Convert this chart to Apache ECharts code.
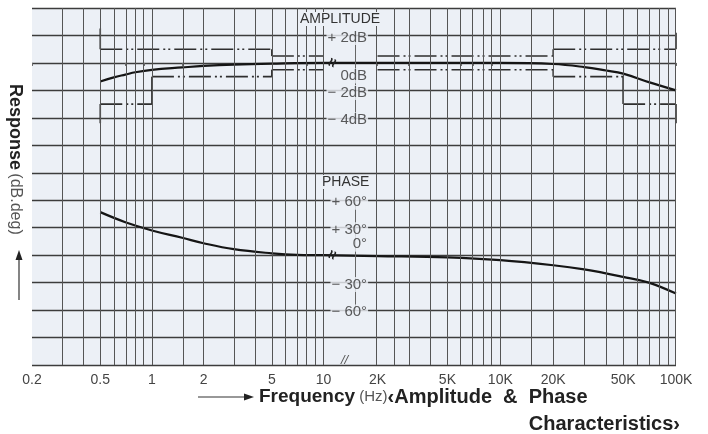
<!DOCTYPE html>
<html>
<head>
<meta charset="utf-8">
<script src="https://cdn.jsdelivr.net/npm/echarts@6/dist/echarts.min.js"></script>
<style>
  html, body { margin: 0; background: #fff; }
  #chart { width: 708px; height: 434px; }
</style>
</head>
<body>
<div id="chart"></div>
<script>
// frequency axis labels (Hz)
const freqTickValues = [0.2, 0.5, 1, 2, 5, 10, 2000, 5000, 10000, 20000, 50000, 100000];
const freqTickLabels = ["0.2", "0.5", "1", "2", "5", "10", "2K", "5K", "10K", "20K", "50K", "100K"];

// log paper lines
const gridFreqs = [
  0.2, 0.3, 0.4, 0.5, 0.6, 0.7, 0.8, 0.9, 1, 1.5, 2, 3, 4, 5, 6, 7, 8, 9, 10,
  2000, 2500, 3000, 4000, 5000, 6000, 7000, 8000, 9000, 10000, 15000,
  20000, 30000, 40000, 50000, 60000, 70000, 80000, 90000, 100000
];

// amplitude response (dB)
const ampFreqs = [0.5, 0.6, 0.7, 0.8, 1, 1.5, 2, 3, 5, 10, 2000, 5000, 10000, 20000, 30000, 40000, 50000, 70000, 100000];
const ampDb    = [-1.35, -1.05, -0.85, -0.68, -0.5, -0.33, -0.22, -0.12, -0.05, 0, 0, 0, 0, -0.08, -0.3, -0.55, -0.78, -1.4, -2.0];

// phase response (deg)
const phaseFreqs = [0.5, 0.7, 1, 1.5, 2, 3, 5, 7, 10, 2000, 5000, 10000, 20000, 30000, 50000, 70000, 100000];
const phaseDeg   = [47, 36, 27, 19, 13, 6.5, 2, 0.3, 0, -1, -2.5, -5.5, -11, -15.6, -23.7, -30, -42];

// tolerance limits: [fromHz, toHz, dB]
const upperLimit = [[0.5, 5, 1], [5, 10, 0.5], [2000, 20000, 0.5], [20000, 100000, 1]];
const lowerLimit = [[0.5, 1, -3], [1, 5, -1], [5, 10, -0.5], [2000, 20000, -0.5], [20000, 50000, -1], [50000, 100000, -3]];
// limit steps: [Hz, fromDb, toDb]
const limitSteps = [
  [0.5, 2.5, 1], [5, 1, 0.5], [20000, 0.5, 1], [100000, 2.2, 1],
  [0.5, -4.4, -3], [1, -3, -1], [5, -1, -0.5], [20000, -0.5, -1], [50000, -1, -3], [100000, -3, -4.4]
];

// scale labels in the middle
const ampTickValues = [2, 0, -2, -4];
const ampTickLabels = ["+ 2dB", "0dB", "− 2dB", "− 4dB"];
const phaseTickValues = [60, 30, 0, -30, -60];
const phaseTickLabels = ["+ 60°", "+ 30°", "0°", "− 30°", "− 60°"];

// broken log axis: 0.2..10 Hz, then 2K..100K
const GAP = 0.315;
const HIGH_SCALE = 1.024;
function P(f) {
  return f <= 100 ? Math.log10(f) : 1 + GAP + (Math.log10(f) - Math.log10(2000)) * HIGH_SCALE;
}

const LABEL_COL = 1.26;   // right edge of middle labels
const SCALE_COL = 1.184;  // little scale line
const BREAK_COL = 1.056;  // break mark on curves
const PLOT_BG = "#ecf0f6";
const FONT = "'Liberation Sans', Arial, sans-serif";
const NARROW = "'Liberation Sans Narrow', 'Liberation Sans', Arial, sans-serif";

function segments(list) {
  const out = [];
  list.forEach(([a, b, v]) => { out.push([P(a), v], [P(b), v], [P(b), "-"]); });
  return out;
}
function steps(list) {
  const out = [];
  list.forEach(([f, a, b]) => { out.push([P(f), a], [P(f), b], [P(f), "-"]); });
  return out;
}
function scaleLine(values) {
  return {
    silent: true,
    symbol: "none",
    label: { show: false },
    lineStyle: { color: "#666", width: 1, type: "solid" },
    data: [[{ coord: [SCALE_COL, values[0]] }, { coord: [SCALE_COL, values[values.length - 1]] }]]
  };
}
function tickLabels(values, labels, zeroOffset) {
  return values.map((v, i) => ({
    value: [LABEL_COL, v],
    label: { formatter: labels[i], offset: v === 0 ? [0, zeroOffset] : [0, 2] }
  }));
}

const chart = echarts.init(document.getElementById("chart"));

const breakMark = {
  symbol: "circle",
  symbolSize: 0,
  silent: true,
  label: { show: true, formatter: "≈", rotate: 70, fontSize: 16, fontWeight: "bold", color: "#222", position: "inside" }
};
const tickLabelStyle = {
  show: true, position: "left", distance: 0,
  color: "#333", fontFamily: FONT, fontSize: 15,
  backgroundColor: PLOT_BG, padding: [0, 1]
};

chart.setOption({
  animation: false,
  backgroundColor: "#ffffff",
  grid: { left: 32, right: 32, top: 8, bottom: 69, show: true, backgroundColor: PLOT_BG, borderWidth: 0 },
  xAxis: {
    type: "value",
    min: P(0.2),
    max: P(100000),
    splitLine: { show: false },
    axisLine: { show: false },
    axisTick: { show: true, customValues: gridFreqs.map(P), length: 3, lineStyle: { color: "#666" } },
    axisLabel: {
      customValues: freqTickValues.map(P),
      formatter: v => {
        const i = freqTickValues.findIndex(f => Math.abs(P(f) - v) < 1e-6);
        return i >= 0 ? freqTickLabels[i] : "";
      },
      color: "#444",
      fontFamily: NARROW,
      fontSize: 14,
      margin: 8
    }
  },
  yAxis: [
    {
      type: "value", min: -22, max: 4, interval: 2,
      axisLine: { show: false }, axisTick: { show: false }, axisLabel: { show: false },
      splitLine: { show: true, lineStyle: { color: "#3c3c3c", width: 1.3 } }
    },
    {
      type: "value", min: -120, max: 270, interval: 30,
      axisLine: { show: false }, axisTick: { show: false }, axisLabel: { show: false },
      splitLine: { show: false }
    }
  ],
  series: [
    {
      name: "paper",
      type: "line",
      data: [[P(1), "-"]],
      symbol: "none",
      z: 1,
      markLine: {
        silent: true,
        symbol: "none",
        label: { show: false },
        lineStyle: { color: "#555", width: 1, type: "solid" },
        data: gridFreqs.map(f => ({ xAxis: P(f) }))
      }
    },
    {
      name: "ampScale",
      type: "line",
      data: [[P(1), "-"]],
      symbol: "none",
      z: 2,
      markLine: scaleLine(ampTickValues)
    },
    {
      name: "phaseScale",
      type: "line",
      yAxisIndex: 1,
      data: [[P(1), "-"]],
      symbol: "none",
      z: 2,
      markLine: scaleLine(phaseTickValues)
    },
    {
      name: "limits",
      type: "line",
      data: segments(upperLimit).concat(segments(lowerLimit)),
      symbol: "none",
      connectNulls: false,
      z: 3,
      lineStyle: { color: "#2e2e2e", width: 1.6, type: [22, 4, 2, 3, 2, 4] }
    },
    {
      name: "steps",
      type: "line",
      data: steps(limitSteps),
      symbol: "none",
      connectNulls: false,
      z: 3,
      lineStyle: { color: "#2e2e2e", width: 1.6 }
    },
    {
      name: "Amplitude",
      type: "line",
      data: ampFreqs.map((f, i) => [P(f), ampDb[i]]),
      smooth: 0.4,
      symbol: "none",
      z: 4,
      lineStyle: { color: "#151515", width: 2.2 },
      markPoint: Object.assign({ data: [{ coord: [BREAK_COL, 0] }] }, breakMark)
    },
    {
      name: "Phase",
      type: "line",
      yAxisIndex: 1,
      data: phaseFreqs.map((f, i) => [P(f), phaseDeg[i]]),
      smooth: 0.4,
      symbol: "none",
      z: 4,
      lineStyle: { color: "#151515", width: 2.2 },
      markPoint: Object.assign({ data: [{ coord: [BREAK_COL, 0] }] }, breakMark)
    },
    {
      name: "ampLabels",
      type: "scatter",
      data: tickLabels(ampTickValues, ampTickLabels, 13),
      symbolSize: 0,
      z: 6,
      silent: true,
      label: tickLabelStyle
    },
    {
      name: "phaseLabels",
      type: "scatter",
      yAxisIndex: 1,
      data: tickLabels(phaseTickValues, phaseTickLabels, -11),
      symbolSize: 0,
      z: 6,
      silent: true,
      label: tickLabelStyle
    }
  ],
  graphic: [
    { type: "text", left: 300, top: 12, z: 10, style: { text: "AMPLITUDE", font: "14px " + FONT, fill: "#333", backgroundColor: PLOT_BG } },
    { type: "text", left: 322, top: 175, z: 10, style: { text: "PHASE", font: "14px " + FONT, fill: "#333", backgroundColor: PLOT_BG } },
    { type: "text", left: 341, top: 354, z: 10, style: { text: "//", font: "italic 13px " + FONT, fill: "#555" } },
    {
      type: "text", x: 15, y: 84, rotation: -Math.PI / 2, z: 10,
      style: {
        text: "{b|Response} {n|(dB.deg)}",
        align: "left",
        verticalAlign: "middle",
        rich: {
          b: { font: "bold 18px " + FONT, fill: "#222" },
          n: { font: "16px " + FONT, fill: "#555" }
        }
      }
    },
    { type: "line", z: 10, shape: { x1: 19, y1: 300, x2: 19, y2: 258 }, style: { stroke: "#333", lineWidth: 1.2 } },
    { type: "polygon", z: 10, shape: { points: [[19, 250], [15.5, 260], [22.5, 260]] }, style: { fill: "#222" } },
    { type: "line", z: 10, shape: { x1: 198, y1: 397, x2: 246, y2: 397 }, style: { stroke: "#333", lineWidth: 1.2 } },
    { type: "polygon", z: 10, shape: { points: [[254, 397], [244, 393.5], [244, 400.5]] }, style: { fill: "#222" } },
    {
      type: "text", left: 259, top: 387, z: 10,
      style: {
        text: "{b|Frequency}{n| (Hz)}{a|‹Amplitude  &  Phase}",
        rich: {
          b: { font: "bold 19px " + FONT, fill: "#222" },
          n: { font: "15px " + FONT, fill: "#555" },
          a: { font: "bold 20px " + FONT, fill: "#222" }
        }
      }
    },
    { type: "text", right: 28, top: 414, z: 10, style: { text: "Characteristics›", font: "bold 20px " + FONT, fill: "#222" } }
  ]
});
</script>
</body>
</html>
